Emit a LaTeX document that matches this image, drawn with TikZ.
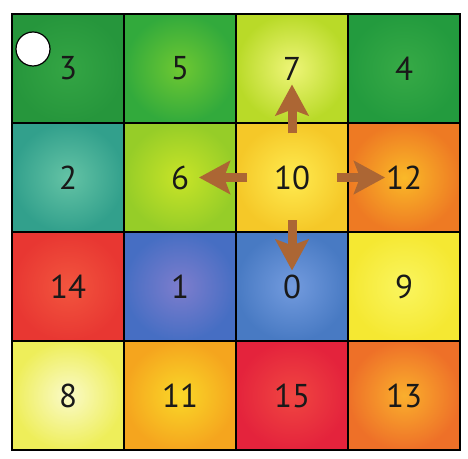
\documentclass[tikz,border=0pt]{standalone}
\usepackage{fontspec}
\setmainfont{PT Sans}
\usetikzlibrary{arrows.meta}
\definecolor{arrbrown}{RGB}{172,102,52}
\definecolor{txt}{RGB}{25,25,25}
\tikzset{
  cell/.style={draw=black, line width=2.2pt, minimum width=112pt, minimum height=109pt,
    inner sep=0pt, shade, text=txt, font=\fontsize{33}{33}\selectfont},
  movearrow/.style={draw=arrbrown, line width=9pt,
    -{Stealth[length=31pt, width=33pt, inset=6pt, fill=arrbrown]}},
}
\begin{document}
\begin{tikzpicture}[x=1pt,y=1pt]
\useasboundingbox (0,0) rectangle (468,458);
\fill[white] (0,0) rectangle (468,458);
% row 1
\node[cell, inner color={rgb,255:red,52;green,165;blue,68}, outer color={rgb,255:red,38;green,150;blue,60}] (c3) at (68,389.5) {3};
\node[cell, inner color={rgb,255:red,110;green,200;blue,50}, outer color={rgb,255:red,50;green,170;blue,60}] (c5) at (180,389.5) {5};
\node[cell, inner color={rgb,255:red,238;green,245;blue,120}, outer color={rgb,255:red,185;green,218;blue,40}] (c7) at (292,389.5) {7};
\node[cell, inner color={rgb,255:red,55;green,170;blue,70}, outer color={rgb,255:red,35;green,155;blue,62}] (c4) at (404,389.5) {4};
% row 2
\node[cell, inner color={rgb,255:red,100;green,195;blue,165}, outer color={rgb,255:red,50;green,160;blue,140}] (c2) at (68,280.5) {2};
\node[cell, inner color={rgb,255:red,200;green,228;blue,40}, outer color={rgb,255:red,150;green,205;blue,40}] (c6) at (180,280.5) {6};
\node[cell, inner color={rgb,255:red,255;green,235;blue,80}, outer color={rgb,255:red,245;green,200;blue,40}] (c10) at (292,280.5) {10};
\node[cell, inner color={rgb,255:red,250;green,185;blue,40}, outer color={rgb,255:red,238;green,122;blue,35}] (c12) at (404,280.5) {12};
% row 3
\node[cell, inner color={rgb,255:red,242;green,85;blue,62}, outer color={rgb,255:red,232;green,55;blue,50}] (c14) at (68,171.5) {14};
\node[cell, inner color={rgb,255:red,125;green,125;blue,205}, outer color={rgb,255:red,70;green,110;blue,195}] (c1) at (180,171.5) {1};
\node[cell, inner color={rgb,255:red,115;green,155;blue,222}, outer color={rgb,255:red,72;green,122;blue,195}] (c0) at (292,171.5) {0};
\node[cell, inner color={rgb,255:red,250;green,245;blue,95}, outer color={rgb,255:red,245;green,232;blue,50}] (c9) at (404,171.5) {9};
% row 4
\node[cell, inner color={rgb,255:red,250;green,250;blue,200}, outer color={rgb,255:red,238;green,238;blue,90}] (c8) at (68,62.5) {8};
\node[cell, inner color={rgb,255:red,250;green,215;blue,40}, outer color={rgb,255:red,245;green,165;blue,30}] (c11) at (180,62.5) {11};
\node[cell, inner color={rgb,255:red,240;green,70;blue,65}, outer color={rgb,255:red,228;green,35;blue,60}] (c15) at (292,62.5) {15};
\node[cell, inner color={rgb,255:red,250;green,175;blue,45}, outer color={rgb,255:red,238;green,112;blue,40}] (c13) at (404,62.5) {13};
% token
\node[circle, draw=black, line width=1.2pt, fill=white, minimum size=34pt, inner sep=0pt] (token) at (33,409) {};
% arrows
\draw[movearrow, shorten <=44pt, shorten >=16pt] (c10.center) -- (c7.center);
\draw[movearrow, shorten <=45pt, shorten >=19pt] (c10.center) -- (c6.center);
\draw[movearrow, shorten <=45pt, shorten >=19pt] (c10.center) -- (c12.center);
\draw[movearrow, shorten <=43pt, shorten >=16pt] (c10.center) -- (c0.center);
\end{tikzpicture}
\end{document}
